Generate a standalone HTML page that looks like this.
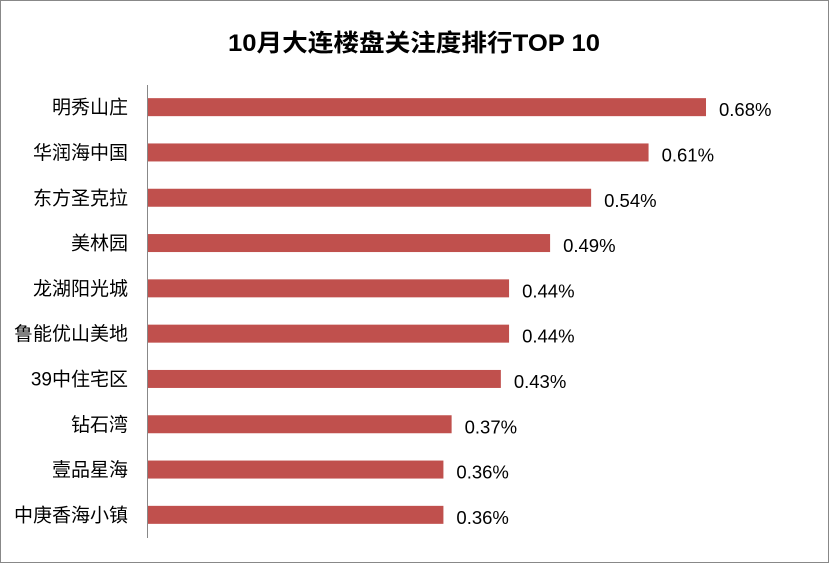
<!DOCTYPE html>
<html><head><meta charset="utf-8"><style>
body{margin:0;background:#fff;}
#c{position:relative;width:829px;height:563px;overflow:hidden;}
</style></head><body>
<div id="c">
<svg id="s" width="829" height="563" xmlns="http://www.w3.org/2000/svg">
<rect x="0.5" y="0.5" width="828" height="562" fill="#fff" stroke="#888"/>
<text x="414" y="51" text-anchor="middle" textLength="372" lengthAdjust="spacingAndGlyphs" font-family="Liberation Sans, Noto Sans CJK SC, sans-serif" font-size="24" font-weight="bold" fill="#000">10月大连楼盘关注度排行TOP 10</text>
<line x1="147.5" y1="85" x2="147.5" y2="538" stroke="#888"/>
<g id="bars"></g>
</svg>
</div>
<script>
const categories=["明秀山庄","华润海中国","东方圣克拉","美林园","龙湖阳光城","鲁能优山美地","39中住宅区","钻石湾","壹品星海","中庚香海小镇"];
const values=[0.68,0.61,0.54,0.49,0.44,0.44,0.43,0.37,0.36,0.36];
const valueLabels=["0.68%","0.61%","0.54%","0.49%","0.44%","0.44%","0.43%","0.37%","0.36%","0.36%"];
const x0=148,pxPer=820.6,yTop=84.5,band=45.3,bh=18;
const xs=v=>x0+v*pxPer;
const yc=i=>yTop+band*(i+0.5);
const g=document.getElementById('bars');
const ns="http://www.w3.org/2000/svg";
const font="Liberation Sans, Noto Sans CJK SC, sans-serif";
categories.forEach((c,i)=>{
  const r=document.createElementNS(ns,'rect');
  r.setAttribute('x',x0);r.setAttribute('y',yc(i)-bh/2);
  r.setAttribute('width',xs(values[i])-x0);r.setAttribute('height',bh);
  r.setAttribute('fill','#c0504d');
  
  
  g.appendChild(r);
  const t=document.createElementNS(ns,'text');
  t.setAttribute('x',128);t.setAttribute('y',yc(i)+6.5);
  t.setAttribute('text-anchor','end');t.setAttribute('font-size','19');
  t.setAttribute('font-family',font);t.textContent=c;
  
  
  g.appendChild(t);
  const v=document.createElementNS(ns,'text');
  v.setAttribute('x',xs(values[i])+13);v.setAttribute('y',yc(i)+9);
  v.setAttribute('font-size','18.5');v.setAttribute('font-family',font);
  v.textContent=valueLabels[i];
  
  
  g.appendChild(v);
});
</script>
</body></html>
